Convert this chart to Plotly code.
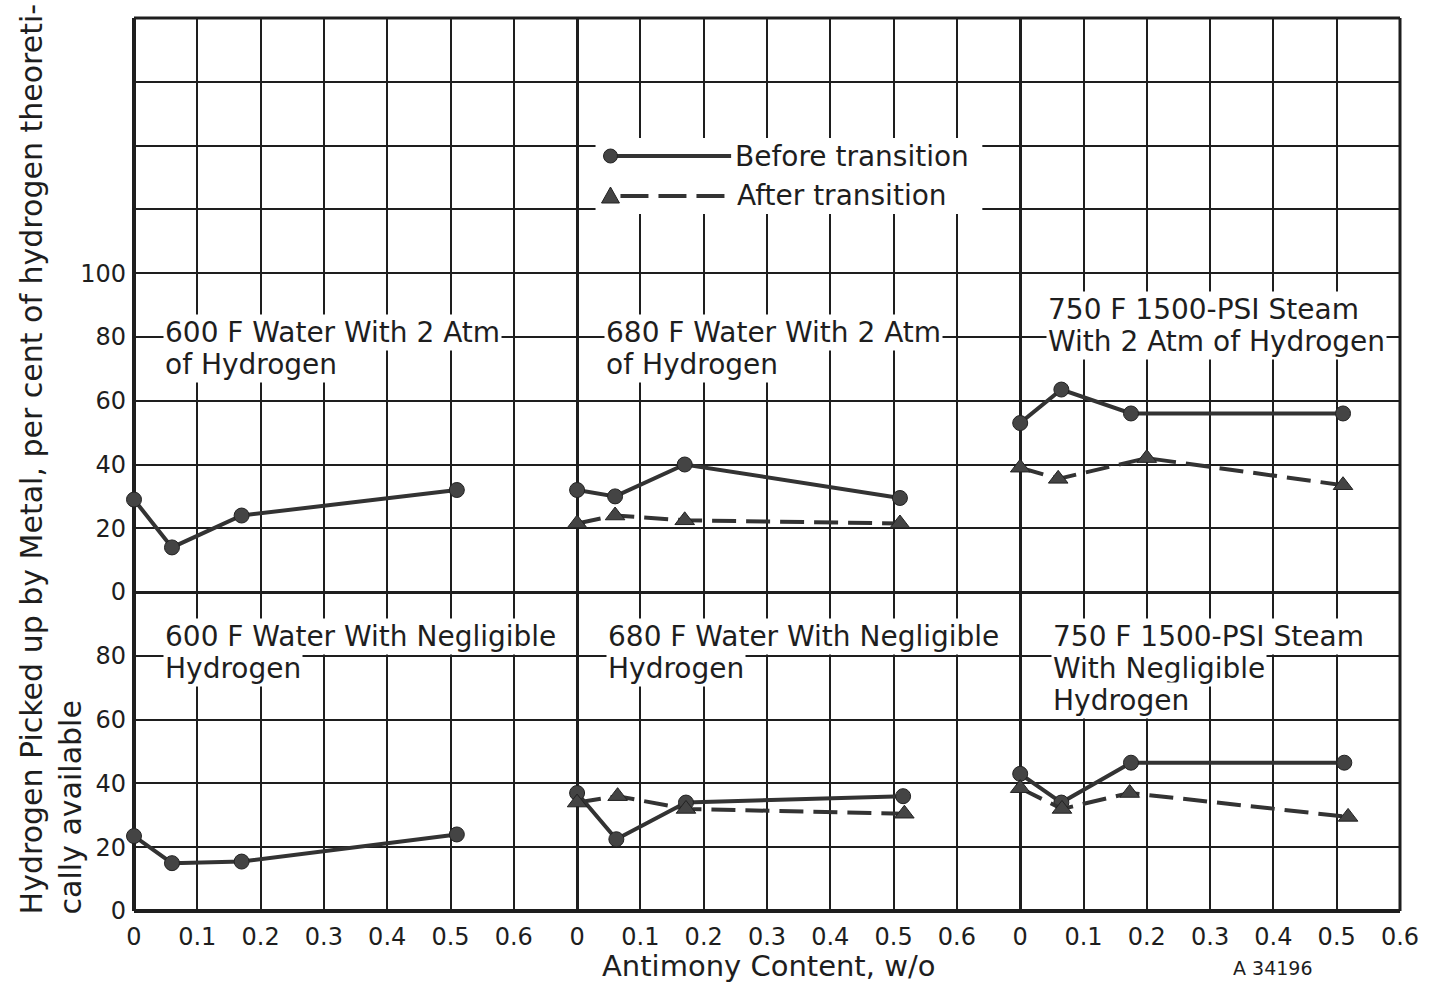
import plotly.graph_objects as go
from plotly.subplots import make_subplots

# Antimony content (w/o) and hydrogen picked up (% of theoretically available)
# Top row: with 2 atm of hydrogen; bottom row: with negligible hydrogen
sb_600_h2_before = [0.0, 0.06, 0.17, 0.51]
h_600_h2_before = [29, 14, 24, 32]

sb_680_h2_before = [0.0, 0.06, 0.17, 0.51]
h_680_h2_before = [32, 30, 40, 29.5]
sb_680_h2_after = [0.0, 0.06, 0.17, 0.51]
h_680_h2_after = [21.5, 24, 22.5, 21.5]

sb_750_h2_before = [0.0, 0.065, 0.175, 0.51]
h_750_h2_before = [53, 63.5, 56, 56]
sb_750_h2_after = [0.0, 0.06, 0.2, 0.51]
h_750_h2_after = [39, 35.5, 42, 33.5]

sb_600_neg_before = [0.0, 0.06, 0.17, 0.51]
h_600_neg_before = [23.5, 15, 15.5, 24]

sb_680_neg_before = [0.0, 0.062, 0.172, 0.515]
h_680_neg_before = [37, 22.5, 34, 36]
sb_680_neg_after = [0.0, 0.064, 0.172, 0.517]
h_680_neg_after = [34, 36, 32, 30.5]

sb_750_neg_before = [0.0, 0.065, 0.175, 0.512]
h_750_neg_before = [43, 34, 46.5, 46.5]
sb_750_neg_after = [0.0, 0.066, 0.173, 0.518]
h_750_neg_after = [38.5, 32, 37, 29.5]

x_tick_vals = [0, 0.1, 0.2, 0.3, 0.4, 0.5, 0.6]
x_tick_text = ["0", "0.1", "0.2", "0.3", "0.4", "0.5", "0.6"]
y_top_vals = [0, 20, 40, 60, 80, 100, 120, 140, 160, 180]
y_top_text = ["0", "20", "40", "60", "80", "100", "", "", "", ""]
y_bot_vals = [0, 20, 40, 60, 80]
y_bot_text = ["0", "20", "40", "60", "80"]

panel_titles = {
    (1, 1): ["600 F Water With 2 Atm", "of Hydrogen"],
    (1, 2): ["680 F Water With 2 Atm", "of Hydrogen"],
    (1, 3): ["750 F 1500-PSI Steam", "With 2 Atm of Hydrogen"],
    (2, 1): ["600 F Water With Negligible", "Hydrogen"],
    (2, 2): ["680 F Water With Negligible", "Hydrogen"],
    (2, 3): ["750 F 1500-PSI Steam", "With Negligible", "Hydrogen"],
}

before_series = [
    (1, 1, sb_600_h2_before, h_600_h2_before),
    (1, 2, sb_680_h2_before, h_680_h2_before),
    (1, 3, sb_750_h2_before, h_750_h2_before),
    (2, 1, sb_600_neg_before, h_600_neg_before),
    (2, 2, sb_680_neg_before, h_680_neg_before),
    (2, 3, sb_750_neg_before, h_750_neg_before),
]
after_series = [
    (1, 2, sb_680_h2_after, h_680_h2_after),
    (1, 3, sb_750_h2_after, h_750_h2_after),
    (2, 2, sb_680_neg_after, h_680_neg_after),
    (2, 3, sb_750_neg_after, h_750_neg_after),
]

INK = "#1e1e1e"
MARK = "#444444"
FONT = "DejaVu Sans"

fig = make_subplots(
    rows=2, cols=3,
    column_widths=[0.7, 0.7, 0.6],
    row_heights=[180, 100],
    horizontal_spacing=0, vertical_spacing=0,
)

for r, c, xs, ys in before_series:
    fig.add_trace(go.Scatter(
        x=xs, y=ys, mode="lines+markers", name="Before transition",
        showlegend=False, cliponaxis=False,
        line=dict(color="#333333", width=4),
        marker=dict(symbol="circle", size=15, color=MARK,
                    line=dict(color="#222222", width=1)),
    ), row=r, col=c)

for r, c, xs, ys in after_series:
    fig.add_trace(go.Scatter(
        x=xs, y=ys, mode="lines+markers", name="After transition",
        showlegend=False, cliponaxis=False,
        line=dict(color="#333333", width=4, dash="24px,10px"),
        marker=dict(symbol="triangle-up", size=17, color=MARK,
                    line=dict(color="#222222", width=1)),
    ), row=r, col=c)

# Grid; the zero lines form the left frame, bottom frame and panel dividers
tick_font = dict(family=FONT, size=24, color=INK)
for r in (1, 2):
    for c in (1, 2, 3):
        fig.update_xaxes(
            range=[0, 0.7] if c < 3 else [0, 0.6],
            tickvals=x_tick_vals, ticktext=x_tick_text,
            showticklabels=(r == 2), tickfont=tick_font,
            ticks="", ticklabelstandoff=9,
            showgrid=True, gridcolor=INK, gridwidth=2,
            showline=False,
            zeroline=True, zerolinecolor=INK,
            zerolinewidth=4 if c == 1 else 3,
            row=r, col=c,
        )
        fig.update_yaxes(
            range=[0, 180] if r == 1 else [0, 100],
            tickvals=y_top_vals if r == 1 else y_bot_vals,
            ticktext=y_top_text if r == 1 else y_bot_text,
            showticklabels=(c == 1), tickfont=tick_font,
            ticks="", ticklabelstandoff=7,
            showgrid=True, gridcolor=INK, gridwidth=2,
            showline=False,
            zeroline=True, zerolinecolor=INK,
            zerolinewidth=4 if r == 2 else 3,
            row=r, col=c,
        )

# Key in paper coordinates
PX_L, PX_R, PX_T, PX_B = 134, 1404, 18, 911


def px(x):
    return (x - PX_L) / (PX_R - PX_L)


def py(y):
    return (PX_B - y) / (PX_B - PX_T)


# Top and right edges of the frame
fig.add_shape(type="line", xref="paper", yref="paper", x0=0, x1=1, y0=1, y1=1,
              line=dict(color=INK, width=3), layer="above")
fig.add_shape(type="line", xref="paper", yref="paper", x0=1, x1=1, y0=0, y1=1,
              line=dict(color=INK, width=3), layer="above")

# Panel headings, each line on a white ground that breaks the grid
label_font = dict(family=FONT, size=28, color=INK)
title_pos = {
    (1, 1): (0.046, 81.5), (1, 2): (0.042, 81.5), (1, 3): (0.04, 88.5),
    (2, 1): (0.046, 86.0), (2, 2): (0.046, 86.0), (2, 3): (0.048, 86.0),
}
line_step = 10.0
for (r, c), lines in panel_titles.items():
    x0, y0 = title_pos[(r, c)]
    idx = (r - 1) * 3 + c
    suffix = "" if idx == 1 else str(idx)
    for i, txt in enumerate(lines):
        fig.add_annotation(
            x=x0, y=y0 - i * line_step, xref="x" + suffix, yref="y" + suffix,
            text=txt, showarrow=False, xanchor="left", yanchor="middle",
            font=label_font, bgcolor="white", borderpad=1,
        )

fig.add_shape(type="rect", xref="paper", yref="paper",
              x0=px(597), x1=px(985), y0=py(214), y1=py(138),
              fillcolor="white", line=dict(width=0), layer="above")
fig.add_shape(type="line", xref="paper", yref="paper",
              x0=px(615), x1=px(733), y0=py(156), y1=py(156),
              line=dict(color="#333333", width=4), layer="above")
fig.add_shape(type="circle", xref="paper", yref="paper",
              x0=px(605), x1=px(619), y0=py(163), y1=py(149),
              fillcolor=MARK, line=dict(color="#222222", width=1), layer="above")
fig.add_shape(type="line", xref="paper", yref="paper",
              x0=px(622), x1=px(735), y0=py(196), y1=py(196),
              line=dict(color="#333333", width=4, dash="28px,10px"), layer="above")
tri = "M {:.5f},{:.5f} L {:.5f},{:.5f} L {:.5f},{:.5f} Z".format(
    px(612), py(187), px(603), py(203), px(621), py(203))
fig.add_shape(type="path", xref="paper", yref="paper", path=tri,
              fillcolor=MARK, line=dict(color="#222222", width=1), layer="above")
legend_font = dict(family=FONT, size=28, color=INK)
fig.add_annotation(x=px(735), y=py(156), xref="paper", yref="paper",
                   text="Before transition", showarrow=False,
                   xanchor="left", yanchor="middle", font=legend_font)
fig.add_annotation(x=px(737), y=py(196), xref="paper", yref="paper",
                   text="After transition", showarrow=False,
                   xanchor="left", yanchor="middle", font=legend_font)

# Axis titles
fig.add_annotation(x=px(771), y=py(966), xref="paper", yref="paper",
                   text="Antimony Content, w/o", showarrow=False,
                   xanchor="center", yanchor="middle",
                   font=dict(family=FONT, size=29, color=INK))
fig.add_annotation(x=px(1276), y=py(968), xref="paper", yref="paper",
                   text="A 34196", showarrow=False,
                   xanchor="center", yanchor="middle",
                   font=dict(family=FONT, size=19, color=INK))
fig.add_annotation(
    x=px(12), y=py(916), xref="paper", yref="paper",
    text="Hydrogen Picked up by Metal, per cent of hydrogen theoreti-<br>cally available",
    showarrow=False, textangle=-90, align="left",
    xanchor="left", yanchor="bottom",
    font=dict(family=FONT, size=30, color=INK),
)

fig.update_layout(
    width=1431, height=984,
    margin=dict(l=PX_L, r=1431 - PX_R, t=PX_T, b=984 - PX_B),
    plot_bgcolor="white", paper_bgcolor="white",
    showlegend=False,
)

fig.write_html("out.html")
